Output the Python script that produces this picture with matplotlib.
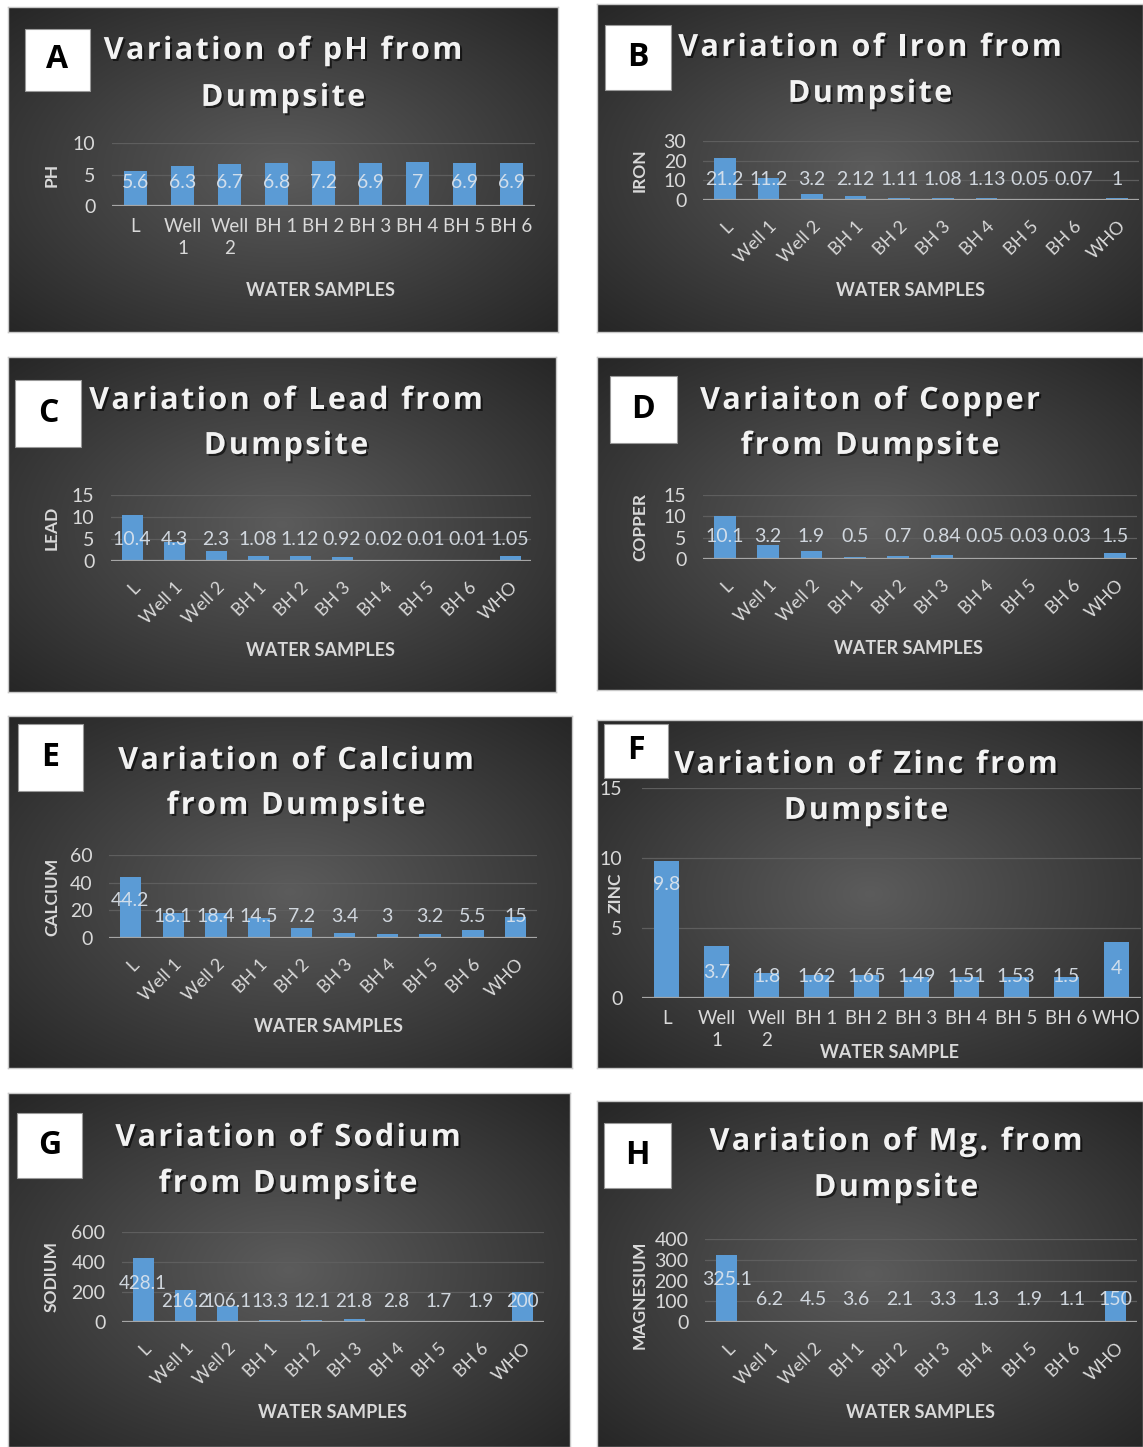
import numpy as np
import matplotlib
matplotlib.use('Agg')
import matplotlib.pyplot as plt
import matplotlib.patheffects as pe
from matplotlib.patches import Rectangle
from matplotlib.font_manager import FontProperties, findfont
from matplotlib.ft2font import FT2Font

W, H = 1143, 1447

samples = ['L', 'Well 1', 'Well 2', 'BH 1', 'BH 2', 'BH 3', 'BH 4', 'BH 5', 'BH 6', 'WHO']

ph = [5.6, 6.3, 6.7, 6.8, 7.2, 6.9, 7, 6.9, 6.9]
iron = [21.2, 11.2, 3.2, 2.12, 1.11, 1.08, 1.13, 0.05, 0.07, 1]
lead = [10.4, 4.3, 2.3, 1.08, 1.12, 0.92, 0.02, 0.01, 0.01, 1.05]
copper = [10.1, 3.2, 1.9, 0.5, 0.7, 0.84, 0.05, 0.03, 0.03, 1.5]
calcium = [44.2, 18.1, 18.4, 14.5, 7.2, 3.4, 3, 3.2, 5.5, 15]
zinc = [9.8, 3.7, 1.8, 1.62, 1.65, 1.49, 1.51, 1.53, 1.5, 4]
sodium = [428.1, 216.2, 106.1, 13.3, 12.1, 21.8, 2.8, 1.7, 1.9, 200]
magnesium = [325.1, 6.2, 4.5, 3.6, 2.1, 3.3, 1.3, 1.9, 1.1, 150]

BAR = '#5b9bd5'
TXT = '#d9d9d9'
TITLE_SIZE = 22
TRACKING = 2.4  # extra px between title letters

plt.rcParams['font.family'] = ['Lato', 'DejaVu Sans']

title_fp = FontProperties(family='Open Sans', weight='bold', size=TITLE_SIZE)
title_ft = FT2Font(findfont(title_fp))
title_ft.set_size(TITLE_SIZE, 100)


def rect(x0, y0, x1, y1):
    # pixel box (top-left origin) -> figure fraction
    return [x0 / W, 1 - y1 / H, (x1 - x0) / W, (y1 - y0) / H]


def fx(x):
    return x / W


def fy(y):
    return 1 - y / H


fig = plt.figure(figsize=(W / 100, H / 100), dpi=100, facecolor='white')

# radial grey gradient used for every panel background
gx, gy = np.meshgrid(np.linspace(-1, 1, 300), np.linspace(-1, 1, 200))
rr = np.clip(np.sqrt(gx ** 2 + gy ** 2) / np.sqrt(2), 0, 1)
shade = 0.36 - 0.21 * rr
grad = np.dstack([shade, shade, shade])

shadow = [pe.SimplePatchShadow(offset=(1.5, -1.5), shadow_rgbFace='black', alpha=0.6), pe.Normal()]


def spaced_title(text, xc, yc):
    # letter-spaced bold title, centred on (xc, yc) in pixels
    adv = [title_ft.load_char(ord(c)).linearHoriAdvance / 65536 for c in text]
    total = sum(adv) + TRACKING * (len(text) - 1)
    x = xc - total / 2
    base = yc + 0.714 * TITLE_SIZE * 100 / 72 / 2
    for c, a in zip(text, adv):
        if c != ' ':
            fig.text(fx(x), fy(base), c, ha='left', va='baseline', fontproperties=title_fp,
                     color='#f2f2f2', path_effects=shadow, zorder=6)
        x += a + TRACKING


def panel(p):
    bg = fig.add_axes(rect(*p['box']))
    bg.imshow(grad, extent=(0, 1, 0, 1), aspect='auto', interpolation='bicubic')
    bg.set_xlim(0, 1)
    bg.set_ylim(0, 1)
    bg.set_xticks([])
    bg.set_yticks([])
    for s in bg.spines.values():
        s.set_color('#c8c8c8')
        s.set_linewidth(1)

    # letter tag
    lx0, ly0, lx1, ly1 = p['tag']
    fig.patches.append(Rectangle((fx(lx0), fy(ly1)), (lx1 - lx0) / W, (ly1 - ly0) / H,
                                 transform=fig.transFigure, facecolor='white',
                                 edgecolor='#999999', lw=0.8, zorder=5))
    fig.text(fx((lx0 + lx1) / 2), fy((ly0 + ly1) / 2), p['letter'], ha='center', va='center',
             fontsize=23, fontweight='bold', family='Open Sans', color='black', zorder=6)

    for line, ty in zip(p['title'], p['title_y']):
        spaced_title(line, p['title_x'], ty)

    vals = p['values']
    n = len(vals)
    ax = fig.add_axes(rect(*p['axes']))
    ax.set_facecolor('none')
    x = np.arange(n)
    ax.bar(x, vals, width=0.5, color=BAR, zorder=3)
    ax.set_xlim(-0.5, n - 0.5)
    ax.set_ylim(0, p['yticks'][-1])
    ax.set_yticks(p['yticks'])
    ax.set_yticklabels([str(t) for t in p['yticks']], fontsize=14, color=TXT)
    for t in p['yticks'][1:]:
        ax.axhline(t, color='#5e5e5e', lw=0.9, zorder=1)
    ax.axhline(0, color='#a6a6a6', lw=1.6, zorder=4)
    for s in ax.spines.values():
        s.set_visible(False)
    ax.tick_params(axis='y', length=0, pad=p.get('ypad', 12))
    ax.tick_params(axis='x', length=0)

    labels = samples[:n]
    ax.set_xticks(x)
    if p['rotate']:
        ax.set_xticklabels(labels, rotation=45, ha='right', rotation_mode='anchor',
                           fontsize=13, color=TXT)
        ax.tick_params(axis='x', pad=13)
    else:
        ax.set_xticklabels([s.replace('Well ', 'Well\n') for s in labels], fontsize=13.5,
                           color=TXT, linespacing=1.3, va='top')
        ax.tick_params(axis='x', pad=9)

    # value labels
    ly = p['label_y']
    for i, v in enumerate(vals):
        yy = ly[i] if isinstance(ly, list) else ly
        ax.text(i, yy, '{:g}'.format(v), ha='center', va='center', fontsize=p.get('vsize', 14),
                color='#dfe6ee', alpha=0.9, zorder=5)

    fig.text(fx(p['xlab'][0]), fy(p['xlab'][1]), p['xlabel'], ha='center', va='center',
             fontsize=13, fontweight='bold', color=TXT)
    fig.text(fx(p['ylab'][0]), fy(p['ylab'][1]), p['ylabel'], ha='center', va='center',
             fontsize=12.5, fontweight='bold', color=TXT, rotation=90)
    return ax


panels = [
    dict(letter='A', box=(8, 7, 558, 332), tag=(25, 29, 90, 91),
         title=['Variation of pH from', 'Dumpsite'], title_x=283, title_y=[48, 95],
         axes=(112, 143, 535, 206), values=ph, yticks=[0, 5, 10], rotate=False,
         label_y=3.7, xlabel='WATER SAMPLES', xlab=(321, 291), ylabel='PH', ylab=(52, 175)),
    dict(letter='B', box=(597, 4, 1143, 332), tag=(605, 25, 671, 90),
         title=['Variation of Iron from', 'Dumpsite'], title_x=870, title_y=[45, 91],
         axes=(703, 141, 1139, 200), values=iron, yticks=[0, 10, 20, 30], rotate=True,
         label_y=10.6, xlabel='WATER SAMPLES', xlab=(910, 291), ylabel='IRON', ylab=(640, 170)),
    dict(letter='C', box=(8, 357, 556, 692), tag=(15, 380, 81, 447),
         title=['Variation of Lead from', 'Dumpsite'], title_x=286, title_y=[398, 443],
         axes=(111, 495, 531, 561), values=lead, yticks=[0, 5, 10, 15], rotate=True,
         label_y=4.9, xlabel='WATER SAMPLES', xlab=(320, 650), ylabel='LEAD', ylab=(52, 528)),
    dict(letter='D', box=(597, 357, 1143, 690), tag=(610, 376, 677, 443),
         title=['Variaiton of Copper', 'from Dumpsite'], title_x=870, title_y=[398, 443],
         axes=(703, 495, 1137, 559), values=copper, yticks=[0, 5, 10, 15], rotate=True,
         label_y=5.3, xlabel='WATER SAMPLES', xlab=(908, 648), ylabel='COPPER', ylab=(640, 527)),
    dict(letter='E', box=(8, 716, 572, 1068), tag=(18, 724, 83, 791),
         title=['Variation of Calcium', 'from Dumpsite'], title_x=296, title_y=[758, 803],
         axes=(109, 855, 537, 938), values=calcium, yticks=[0, 20, 40, 60], rotate=True,
         label_y=[26.9] + [15.7] * 9, xlabel='WATER SAMPLES', xlab=(329, 1027),
         ylabel='CALCIUM', ylab=(52, 897)),
    dict(letter='F', box=(597, 720, 1143, 1068), tag=(604, 724, 668, 778),
         title=['Variation of Zinc from', 'Dumpsite'], title_x=866, title_y=[762, 808],
         axes=(642, 788, 1141, 998), values=zinc, yticks=[0, 5, 10, 15], rotate=False,
         label_y=[8.1, 1.8, 1.55, 1.55, 1.55, 1.55, 1.55, 1.55, 1.55, 2.1], ypad=14,
         xlabel='WATER SAMPLE', xlab=(889, 1052), ylabel='ZINC', ylab=(616, 893)),
    dict(letter='G', box=(8, 1093, 570, 1447), tag=(17, 1113, 82, 1178),
         title=['Variation of Sodium', 'from Dumpsite'], title_x=288, title_y=[1135, 1181],
         axes=(122, 1232, 544, 1322), values=sodium, yticks=[0, 200, 400, 600], rotate=True,
         label_y=[255] + [138] * 9, vsize=13.5, xlabel='WATER SAMPLES', xlab=(333, 1413),
         ylabel='SODIUM', ylab=(52, 1277)),
    dict(letter='H', box=(597, 1101, 1143, 1447), tag=(604, 1123, 671, 1188),
         title=['Variation of Mg. from', 'Dumpsite'], title_x=896, title_y=[1139, 1185],
         axes=(705, 1239, 1137, 1322), values=magnesium, yticks=[0, 100, 200, 300, 400],
         rotate=True, label_y=[204] + [108] * 9, xlabel='WATER SAMPLES', xlab=(921, 1412),
         ylabel='MAGNESIUM', ylab=(640, 1295)),
]

for p in panels:
    panel(p)

fig.savefig('out.png', dpi=100, facecolor='white')
